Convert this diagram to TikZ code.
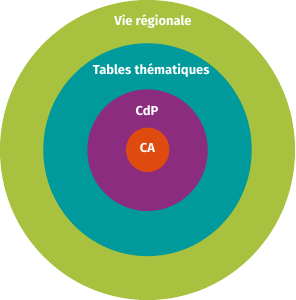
\documentclass[tikz,border=0pt]{standalone}
\usepackage{fontspec}
\setmainfont{Fira Sans}
\definecolor{cgreen}{HTML}{A8C23F}
\definecolor{cteal}{HTML}{009A9C}
\definecolor{cpurple}{HTML}{8B2C7F}
\definecolor{corange}{HTML}{DF4A0F}
\begin{document}
\begin{tikzpicture}[x=1pt,y=-1pt,
  ring/.style={draw=none},
  lbl/.style={text=white,font=\fontsize{13}{15}\selectfont\bfseries,anchor=base,inner sep=0pt}]
\useasboundingbox (0,0) rectangle (295,300);
\fill[cgreen] (147.5,150) ellipse [x radius=147.5, y radius=150];
\fill[cteal] (147.5,149.7) ellipse [x radius=104.2, y radius=106.4];
\fill[cpurple] (147.5,150.2) ellipse [x radius=60.2, y radius=60.8];
\fill[corange] (147.7,149.8) ellipse [x radius=21.7, y radius=22.2];
\node[lbl] (vie) at (153,25) {Vie régionale};
\node[lbl] (tab) at (151.3,74) {Tables thématiques};
\node[lbl] (cdp) at (147,115) {CdP};
\node[lbl] (ca) at (147.5,152.7) {CA};
\end{tikzpicture}
\end{document}
